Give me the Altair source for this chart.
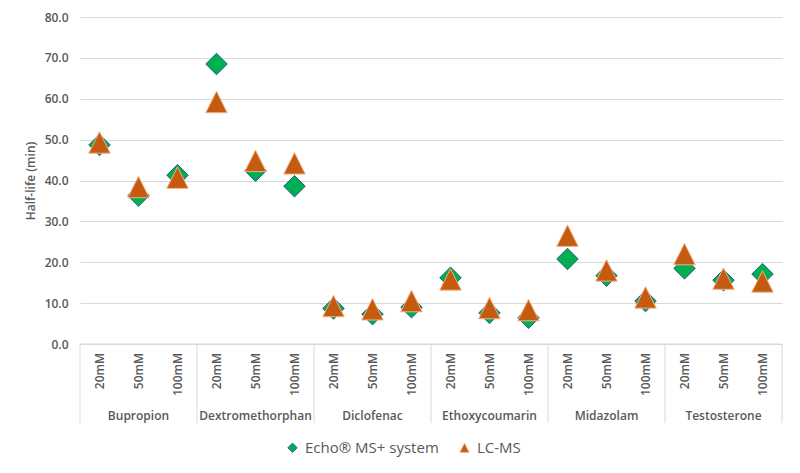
import altair as alt
import pandas as pd

compounds = ["Bupropion", "Dextromethorphan", "Diclofenac", "Ethoxycoumarin", "Midazolam", "Testosterone"]
concentrations = ["20mM", "50mM", "100mM"]
series_names = ["Echo® MS+ system", "LC-MS"]
echo = [48.7, 36.3, 41.3, 68.5, 42.4, 38.6, 8.7, 7.3, 9.0, 16.2, 7.6, 6.4, 20.8, 16.7, 10.5, 18.5, 15.6, 17.1]
lcms = [49.3, 38.4, 40.7, 59.2, 44.8, 44.2, 9.3, 8.5, 10.5, 15.8, 8.8, 8.3, 26.5, 18.0, 11.4, 22.0, 16.0, 15.3]
y_ticks = [0, 10, 20, 30, 40, 50, 60, 70, 80]

rows = []
for s, vals in zip(series_names, [echo, lcms]):
    for i, v in enumerate(vals):
        rows.append({"series": s, "pos": i + 0.5, "compound": compounds[i // 3],
                     "conc": concentrations[i % 3], "value": v})
pts = pd.DataFrame(rows)
cats = pd.DataFrame([{"pos": i + 0.5, "conc": concentrations[i % 3]} for i in range(len(compounds) * 3)])
groups = pd.DataFrame([{"pos": g * 3 + 1.5, "compound": c} for g, c in enumerate(compounds)])
seps = pd.DataFrame({"pos": [g * 3 for g in range(len(compounds) + 1)]})
baseline = pd.DataFrame({"a": [0], "b": [len(compounds) * 3], "v": [0]})

W, H = 702, 327
GRAY = "#595959"
LINE = "#d9d9d9"
xs = alt.Scale(domain=[0, 18], nice=False, zero=False)
ys = alt.Scale(domain=[0, 80], nice=False)

points = alt.Chart(pts).mark_point(filled=True, opacity=1, strokeWidth=1, size=460).encode(
    x=alt.X("pos:Q", scale=xs, axis=None),
    y=alt.Y("value:Q", scale=ys, axis=alt.Axis(
        values=y_ticks, format=".1f", title="Half-life (min)", grid=True, gridColor=LINE,
        domain=False, ticks=False, labelPadding=12, labelFont="Open Sans", labelFontSize=12,
        labelFontWeight=600, labelColor=GRAY, titleFont="Open Sans", titleFontSize=12,
        titleFontWeight=600, titleColor=GRAY, titleX=-50, titleY=H / 2, titleAngle=270,
        titleAlign="center", titleBaseline="middle")),
    shape=alt.Shape("series:N", scale=alt.Scale(domain=series_names, range=["diamond", "M0,-1L1,1L-1,1Z"]), title=None),
    fill=alt.Fill("series:N", scale=alt.Scale(domain=series_names, range=["#00B050", "#C55A11"]), title=None),
    stroke=alt.Stroke("series:N", scale=alt.Scale(domain=series_names, range=["#1F5C8B", "#F4B183"]), title=None),
)

sep = alt.Chart(seps).mark_rule(color=LINE, strokeWidth=1).encode(
    x=alt.X("pos:Q", scale=xs, axis=None), y=alt.value(H), y2=alt.value(H + 79))

base = alt.Chart(baseline).mark_rule(color=LINE, strokeWidth=1).encode(
    x=alt.X("a:Q", scale=xs, axis=None), x2="b:Q", y=alt.Y("v:Q", scale=ys))

conc_text = alt.Chart(cats).mark_text(angle=270, align="right", baseline="middle", font="Open Sans",
                                      fontSize=12, fontWeight=600, color=GRAY).encode(
    x=alt.X("pos:Q", scale=xs, axis=None), y=alt.value(H + 9), text="conc:N")

group_text = alt.Chart(groups).mark_text(align="center", baseline="middle", font="Open Sans",
                                         fontSize=12, fontWeight=600, color=GRAY).encode(
    x=alt.X("pos:Q", scale=xs, axis=None), y=alt.value(H + 72), text="compound:N")

chart = alt.layer(sep, base, conc_text, group_text, points).properties(
    width=W, height=H, autosize=alt.AutoSizeParams(type="none"),
    padding={"left": 72, "top": 9, "right": 10, "bottom": 121},
    background="white",
).configure_view(stroke=None).configure_legend(
    orient="none", legendX=205, legendY=423, direction="horizontal",
    labelFont="Open Sans", labelFontSize=15, labelColor=GRAY, symbolSize=85,
    symbolStrokeWidth=1, columnPadding=18, labelOffset=5, padding=0)

chart.save("out.html", embed_options={"renderer": "svg", "actions": False})
